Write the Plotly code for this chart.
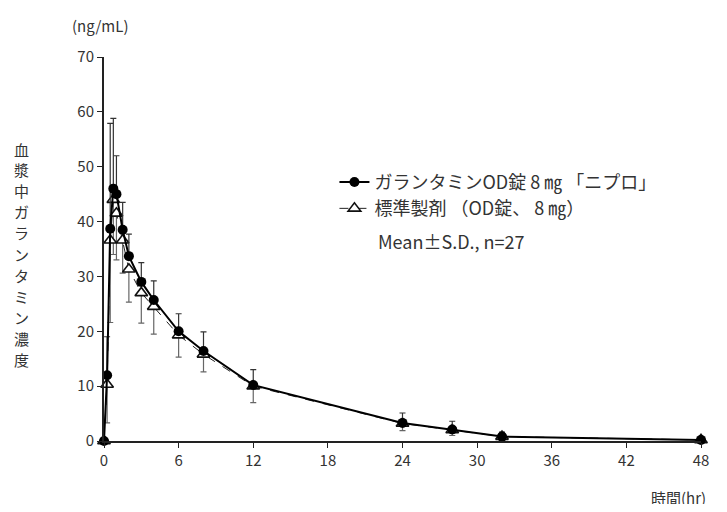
import plotly.graph_objects as go

times = [0, 0.25, 0.5, 0.75, 1, 1.5, 2, 3, 4, 6, 8, 12, 24, 28, 32, 48]
test_mean = [0, 12.0, 38.7, 46.0, 45.0, 38.5, 33.7, 29.0, 25.7, 20.0, 16.4, 10.2, 3.3, 2.1, 0.8, 0.2]
test_sd = [0, 7.0, 19.2, 12.8, 7.0, 5.0, 4.0, 3.5, 3.5, 3.2, 3.5, 2.8, 1.8, 1.5, 0.8, 0.1]
ref_mean = [0, 10.3, 36.6, 44.0, 41.5, 36.6, 31.3, 27.0, 24.5, 19.3, 15.8, 10.0, 3.2, 2.0, 0.8, 0.2]
ref_sd = [0, 7.0, 15.0, 10.0, 8.5, 6.0, 6.0, 5.5, 5.0, 4.0, 3.2, 3.0, 1.3, 1.0, 0.7, 0.1]
x_ticks = [0, 6, 12, 18, 24, 30, 36, 42, 48]
y_ticks = [0, 10, 20, 30, 40, 50, 60, 70]

name_test = "ガランタミンOD錠 8 ㎎ 「ニプロ」"
name_ref = "標準製剤 （OD錠、 8 ㎎）"
ylabel = "血漿中ガランタミン濃度"
font_family = "Noto Sans CJK JP, Noto Sans, sans-serif"

fig = go.Figure()
fig.add_trace(go.Scatter(
    x=times, y=ref_mean, name=name_ref, mode="lines+markers", legendgroup="r",
    line=dict(color="#222", width=1, dash="dash"),
    marker=dict(symbol="triangle-up", size=11, color="white", line=dict(color="#111", width=1.6)),
    error_y=dict(type="data", symmetric=False, array=[0]*len(ref_sd), arrayminus=ref_sd,
                 color="#666", thickness=1.2, width=3),
    cliponaxis=False,
))
fig.add_trace(go.Scatter(
    x=times, y=test_mean, name=name_test, mode="lines+markers", legendgroup="t",
    line=dict(color="#000", width=2),
    marker=dict(symbol="circle", size=10, color="#000"),
    error_y=dict(type="data", symmetric=False, array=test_sd, arrayminus=[0]*len(test_sd),
                 color="#333", thickness=1.2, width=3),
    cliponaxis=False,
))

fig.update_layout(
    width=711, height=496,
    margin=dict(l=96, r=10, t=49, b=63),
    paper_bgcolor="white", plot_bgcolor="white",
    font=dict(family=font_family, color="#333", size=14),
    showlegend=True,
    legend=dict(x=0.386, y=0.722, xanchor="left", yanchor="top",
                traceorder="reversed", font=dict(size=18, color="#333"),
                bgcolor="rgba(0,0,0,0)", itemwidth=30, tracegroupgap=10),
    xaxis=dict(range=[0, 48], tickvals=x_ticks, ticks="outside", ticklen=5,
               tickcolor="#222", showline=True, linecolor="#222", linewidth=2,
               showgrid=False, zeroline=False,
               tickfont=dict(size=15, color="#333")),
    yaxis=dict(range=[0, 70], tickvals=y_ticks, ticks="outside", ticklen=5,
               tickcolor="#222", showline=True, linecolor="#222", linewidth=2,
               showgrid=False, zeroline=False, tickfont=dict(size=15, color="#333")),
)

fig.add_annotation(text="(ng/mL)", xref="paper", yref="paper", x=-0.007, y=1.083,
                   xanchor="center", yanchor="middle", showarrow=False,
                   font=dict(size=15, color="#333"))
fig.add_annotation(text="時間(hr)", xref="paper", yref="paper", x=1.012, y=-0.146,
                   xanchor="right", yanchor="middle", showarrow=False,
                   font=dict(size=15, color="#333"))
# vertical y-axis title, one character per row
top_px, step_px, plot_h = 92, 21, 384
for i, ch in enumerate(ylabel):
    fig.add_annotation(text=ch, xref="paper", yref="paper",
                       x=-0.138, y=1 - (top_px + i * step_px) / plot_h,
                       xanchor="center", yanchor="middle", showarrow=False,
                       font=dict(size=15, color="#333"))
fig.add_annotation(text="Mean±S.D., n=27", xref="paper", yref="paper",
                   x=0.455, y=0.521, xanchor="left", yanchor="middle", showarrow=False,
                   font=dict(size=18, color="#333"))

fig.write_html("out.html")
